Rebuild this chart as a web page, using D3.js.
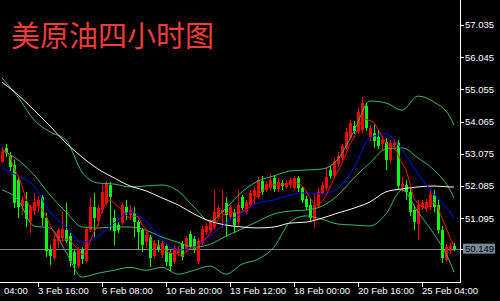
<!DOCTYPE html>
<html>
<head>
<meta charset="utf-8">
<script src="https://cdnjs.cloudflare.com/ajax/libs/d3/7.8.5/d3.min.js"></script>
<style>
  html, body { margin: 0; padding: 0; background: #000; }
  svg { display: block; }
</style>
</head>
<body>
<div id="chart"></div>
<script>
// 4 hour bars, first bar = 2 Feb 04:00
var opens = [52.83,53.26,53.02,52.74,52.28,51.47,51.63,51.01,51.32,51.47,
  51.75,51.10,50.12,49.87,50.40,50.49,50.73,50.55,50.06,49.63,
  50.12,49.78,50.73,51.44,51.01,51.35,51.57,52.12,51.10,50.89,
  50.95,51.44,51.20,51.26,50.98,50.73,50.36,50.52,49.93,50.27,
  49.96,50.24,50.03,49.75,50.03,50.30,50.12,50.61,50.46,49.75,
  50.33,50.67,50.73,50.83,51.14,51.29,51.57,51.14,51.29,50.98,
  51.75,51.29,51.51,51.78,51.75,52.24,51.97,52.03,52.34,52.00,
  52.18,52.06,52.12,52.03,52.34,52.03,51.69,51.51,51.04,51.47,
  51.88,52.03,52.58,52.40,52.77,52.95,53.26,53.57,53.93,53.75,
  53.81,54.55,53.60,53.72,53.60,53.38,53.44,52.89,53.35,53.41,
  52.06,52.12,51.91,51.35,50.92,51.44,51.41,51.44,51.81,51.51,
  50.73,49.81,50.09,50.24];
var highs = [53.29,53.38,53.14,52.89,52.40,51.78,51.91,51.51,51.88,51.78,
  51.81,51.26,50.27,50.58,50.80,51.29,51.57,50.64,50.15,50.21,
  50.21,50.80,51.75,51.88,51.51,52.18,52.24,52.21,51.35,50.98,
  51.57,51.66,51.51,51.44,51.04,50.80,50.67,50.58,50.43,50.43,
  50.43,50.30,50.12,50.27,50.24,50.40,50.55,50.70,50.55,50.49,
  50.86,50.95,51.07,51.97,51.51,51.97,51.75,51.51,51.38,51.97,
  51.81,51.66,51.97,52.06,52.37,52.40,52.24,52.46,52.43,52.34,
  52.28,52.28,52.34,52.40,52.40,52.09,51.78,51.72,51.88,52.03,
  52.21,52.65,52.71,52.95,53.14,53.38,53.87,54.12,54.09,54.49,
  54.82,54.64,53.96,53.96,53.81,53.63,53.57,53.50,53.54,53.50,
  52.37,52.28,52.03,51.51,51.66,51.66,51.69,51.97,51.97,51.66,
  50.86,50.30,50.33,50.33];
var lows = [52.80,52.98,52.55,51.41,51.10,51.20,50.83,50.64,51.20,51.29,
  50.86,49.90,49.66,49.81,50.18,50.36,50.33,49.59,49.35,49.56,
  49.69,49.72,50.67,50.52,50.86,51.26,51.51,50.73,50.27,50.64,
  50.89,51.04,51.04,50.52,50.12,50.06,50.18,49.59,49.87,50.06,
  49.87,49.63,49.47,49.69,49.93,49.81,50.06,50.15,50.03,49.69,
  50.27,50.58,50.64,50.77,51.07,50.80,50.52,51.07,50.64,50.89,
  51.35,51.23,51.44,51.51,51.69,51.81,51.91,51.97,51.91,51.91,
  51.97,52.00,52.03,51.97,51.91,51.57,51.35,50.98,50.80,51.41,
  51.81,51.94,52.31,52.34,52.68,52.89,53.20,53.50,53.69,53.69,
  53.72,53.78,53.47,53.26,53.23,53.20,52.58,52.80,53.20,51.97,
  51.91,51.66,51.17,50.73,50.43,51.35,51.29,51.35,51.29,50.64,
  49.72,49.75,49.99,50.09];
var closes = [53.17,53.11,52.68,51.57,51.44,51.66,51.07,51.44,51.60,51.66,
  51.10,50.09,49.93,50.46,50.73,50.77,50.40,49.78,49.69,50.15,
  49.84,50.77,51.44,51.10,51.41,51.91,52.15,51.75,50.70,50.73,
  51.51,51.26,51.35,50.98,50.67,50.27,50.58,49.87,50.33,50.15,
  50.33,49.75,49.63,50.18,50.15,49.90,50.49,50.24,50.12,50.40,
  50.77,50.86,50.98,51.29,51.41,51.35,51.20,51.44,50.89,51.51,
  51.41,51.60,51.88,51.97,52.28,51.91,52.15,52.28,52.00,52.21,
  52.09,52.18,52.28,52.34,52.03,51.66,51.44,51.10,51.51,51.91,
  52.12,52.37,52.40,52.83,53.02,53.32,53.75,54.02,53.78,54.36,
  54.64,53.87,53.87,53.47,53.32,53.50,52.89,53.41,53.41,52.09,
  52.15,51.91,51.29,50.98,51.51,51.57,51.60,51.84,51.44,50.73,
  49.87,50.21,50.24,50.149];

// indicator lines read at every 4th bar
var lineIdx = [0,4,8,12,16,20,24,28,32,36,40,44,48,52,56,60,64,68,72,76,80,84,88,92,96,100,104,108,112,113];
var bbUpper = [55.41,54.82,54.12,53.75,53.50,52.52,52.18,52.15,52.06,52.09,52.12,51.94,51.44,51.01,51.41,
  51.91,52.24,52.40,52.55,52.58,52.61,52.92,53.78,54.70,54.64,54.42,54.85,54.67,54.21,53.96];
var bbMiddle = [53.20,52.89,52.43,51.81,51.29,50.83,50.80,50.83,50.83,50.73,50.52,50.36,50.21,50.30,50.55,
  50.77,51.01,51.23,51.32,51.35,51.47,51.81,52.34,52.80,53.23,53.26,52.95,52.58,51.97,51.72];
var bbLower = [51.97,51.66,50.86,50.80,50.06,49.29,49.41,49.50,49.59,49.50,49.59,49.38,49.50,49.63,49.38,
  49.69,49.84,50.21,50.98,51.17,51.07,50.92,50.89,50.86,51.23,51.97,51.29,50.61,49.75,49.44];
var maBlue = [52.65,52.40,52.09,51.29,50.83,50.36,50.55,50.95,51.29,51.01,50.43,50.12,50.21,50.55,50.95,
  51.26,51.57,51.66,51.81,51.88,51.84,52.03,52.65,53.57,53.69,53.20,52.46,51.84,51.29,51.10];
var maWhite = [55.28,54.89,54.42,53.93,53.41,52.98,52.61,52.34,52.09,51.94,51.72,51.51,51.23,51.01,50.89,
  50.83,50.80,50.83,50.95,50.98,51.10,51.26,51.41,51.60,51.91,52.00,52.06,52.09,52.06,52.06];

var priceTicks = [57.035,56.045,55.055,54.065,53.075,52.085,51.095];
var lastPrice = 50.149;
var timeLabels = ["04:00","3 Feb 16:00","6 Feb 08:00","10 Feb 20:00","13 Feb 12:00","18 Feb 00:00","20 Feb 16:00","25 Feb 04:00"];
var timeIdx = [0,9,25,41,57,73,89,105];

var W = 500, H = 301, plotW = 460, plotH = 282;
var font = "'Liberation Sans', Arial, sans-serif";

var svg = d3.select('#chart').append('svg')
  .attr('width', W).attr('height', H)
  .style('background', '#000');

var x = d3.scaleLinear().domain([0, closes.length - 1]).range([2, 454]);
var y = d3.scaleLinear().domain([57.803, 49.14]).range([0, plotH]);

svg.append('clipPath').attr('id', 'plotclip')
  .append('rect').attr('x', 0).attr('y', 0).attr('width', plotW).attr('height', plotH);

var plot = svg.append('g').attr('clip-path', 'url(#plotclip)');

// current price line
plot.append('line')
  .attr('x1', 0).attr('x2', plotW)
  .attr('y1', Math.round(y(lastPrice)) + 0.5).attr('y2', Math.round(y(lastPrice)) + 0.5)
  .style('stroke', '#778899').style('stroke-width', 1);

// candles
var bars = d3.range(closes.length);
var up = function(i) { return closes[i] >= opens[i]; };
var col = function(i) { return up(i) ? '#ff0000' : '#00ff00'; };

plot.selectAll('line.wick').data(bars).enter().append('line')
  .attr('class', 'wick')
  .attr('x1', function(i) { return x(i) + 0.5; })
  .attr('x2', function(i) { return x(i) + 0.5; })
  .attr('y1', function(i) { return Math.round(y(highs[i])); })
  .attr('y2', function(i) { return Math.round(y(lows[i])); })
  .style('stroke', col).style('stroke-width', 1)
  .style('shape-rendering', 'crispEdges');

plot.selectAll('rect.body').data(bars).enter().append('rect')
  .attr('class', 'body')
  .attr('x', function(i) { return x(i) - 1; })
  .attr('width', 3)
  .attr('y', function(i) { return Math.round(y(Math.max(opens[i], closes[i]))); })
  .attr('height', function(i) {
    return Math.max(1, Math.round(Math.abs(y(opens[i]) - y(closes[i]))));
  })
  .style('fill', col)
  .style('shape-rendering', 'crispEdges');

// indicator lines
function drawSampled(vals, color) {
  var line = d3.line()
    .x(function(d, i) { return x(lineIdx[i]); })
    .y(function(d) { return y(d); })
    .curve(d3.curveMonotoneX);
  plot.append('path').datum(vals)
    .attr('d', line)
    .style('fill', 'none').style('stroke', color).style('stroke-width', 1);
}
drawSampled(bbUpper, '#3cb371');
drawSampled(bbMiddle, '#3cb371');
drawSampled(bbLower, '#3cb371');
drawSampled(maWhite, '#fff0f0');
drawSampled(maBlue, '#0000ff');

// short moving average of closes
var ma5 = closes.map(function(c, i) { return d3.mean(closes.slice(Math.max(0, i - 4), i + 1)); });
plot.append('path').datum(ma5)
  .attr('d', d3.line().x(function(d, i) { return x(i); }).y(function(d) { return y(d); }))
  .style('fill', 'none').style('stroke', '#ff0000').style('stroke-width', 1);

// axes frame
svg.append('line').attr('x1', plotW + 0.5).attr('x2', plotW + 0.5).attr('y1', 0).attr('y2', plotH + 0.5)
  .style('stroke', '#fff').style('shape-rendering', 'crispEdges');
svg.append('line').attr('x1', 0).attr('x2', plotW + 0.5).attr('y1', plotH + 0.5).attr('y2', plotH + 0.5)
  .style('stroke', '#fff').style('shape-rendering', 'crispEdges');

// price scale
var yt = svg.append('g');
yt.selectAll('line').data(priceTicks).enter().append('line')
  .attr('x1', plotW).attr('x2', plotW + 4)
  .attr('y1', function(d) { return Math.round(y(d)) + 0.5; })
  .attr('y2', function(d) { return Math.round(y(d)) + 0.5; })
  .style('stroke', '#fff').style('shape-rendering', 'crispEdges');
yt.selectAll('text').data(priceTicks).enter().append('text')
  .attr('x', plotW + 5)
  .attr('y', function(d) { return y(d); })
  .attr('dy', '0.35em')
  .style('font-family', font).style('font-size', '9.5px').style('fill', '#fff')
  .text(function(d) { return d3.format('.3f')(d); });

// last price tag
var ly = y(lastPrice);
svg.append('line').attr('x1', plotW).attr('x2', plotW + 3)
  .attr('y1', Math.round(ly) + 0.5).attr('y2', Math.round(ly) + 0.5)
  .style('stroke', '#fff');
svg.append('rect').attr('x', plotW + 3).attr('y', ly - 5.5).attr('width', 32).attr('height', 10)
  .style('fill', '#778899');
svg.append('text').attr('x', plotW + 5).attr('y', ly).attr('dy', '0.35em')
  .style('font-family', font).style('font-size', '9.5px').style('fill', '#000')
  .text(d3.format('.3f')(lastPrice));

// time scale
var xt = svg.append('g');
xt.selectAll('line').data(timeIdx.slice(1)).enter().append('line')
  .attr('x1', function(d) { return x(d) + 0.5; })
  .attr('x2', function(d) { return x(d) + 0.5; })
  .attr('y1', plotH).attr('y2', plotH + 5)
  .style('stroke', '#fff').style('shape-rendering', 'crispEdges');
xt.selectAll('text').data(timeLabels).enter().append('text')
  .attr('x', function(d, i) { return x(timeIdx[i]) + (i === 0 ? 2 : 0); })
  .attr('y', 294)
  .style('font-family', font).style('font-size', '9.5px').style('fill', '#fff')
  .text(function(d) { return d; });

// title
svg.append('text')
  .attr('x', 11).attr('y', 47)
  .style('font-family', "'Noto Sans CJK SC', sans-serif")
  .style('font-size', '29px')
  .style('fill', '#f23c3c')
  .text('美原油四小时图');
</script>
</body>
</html>
